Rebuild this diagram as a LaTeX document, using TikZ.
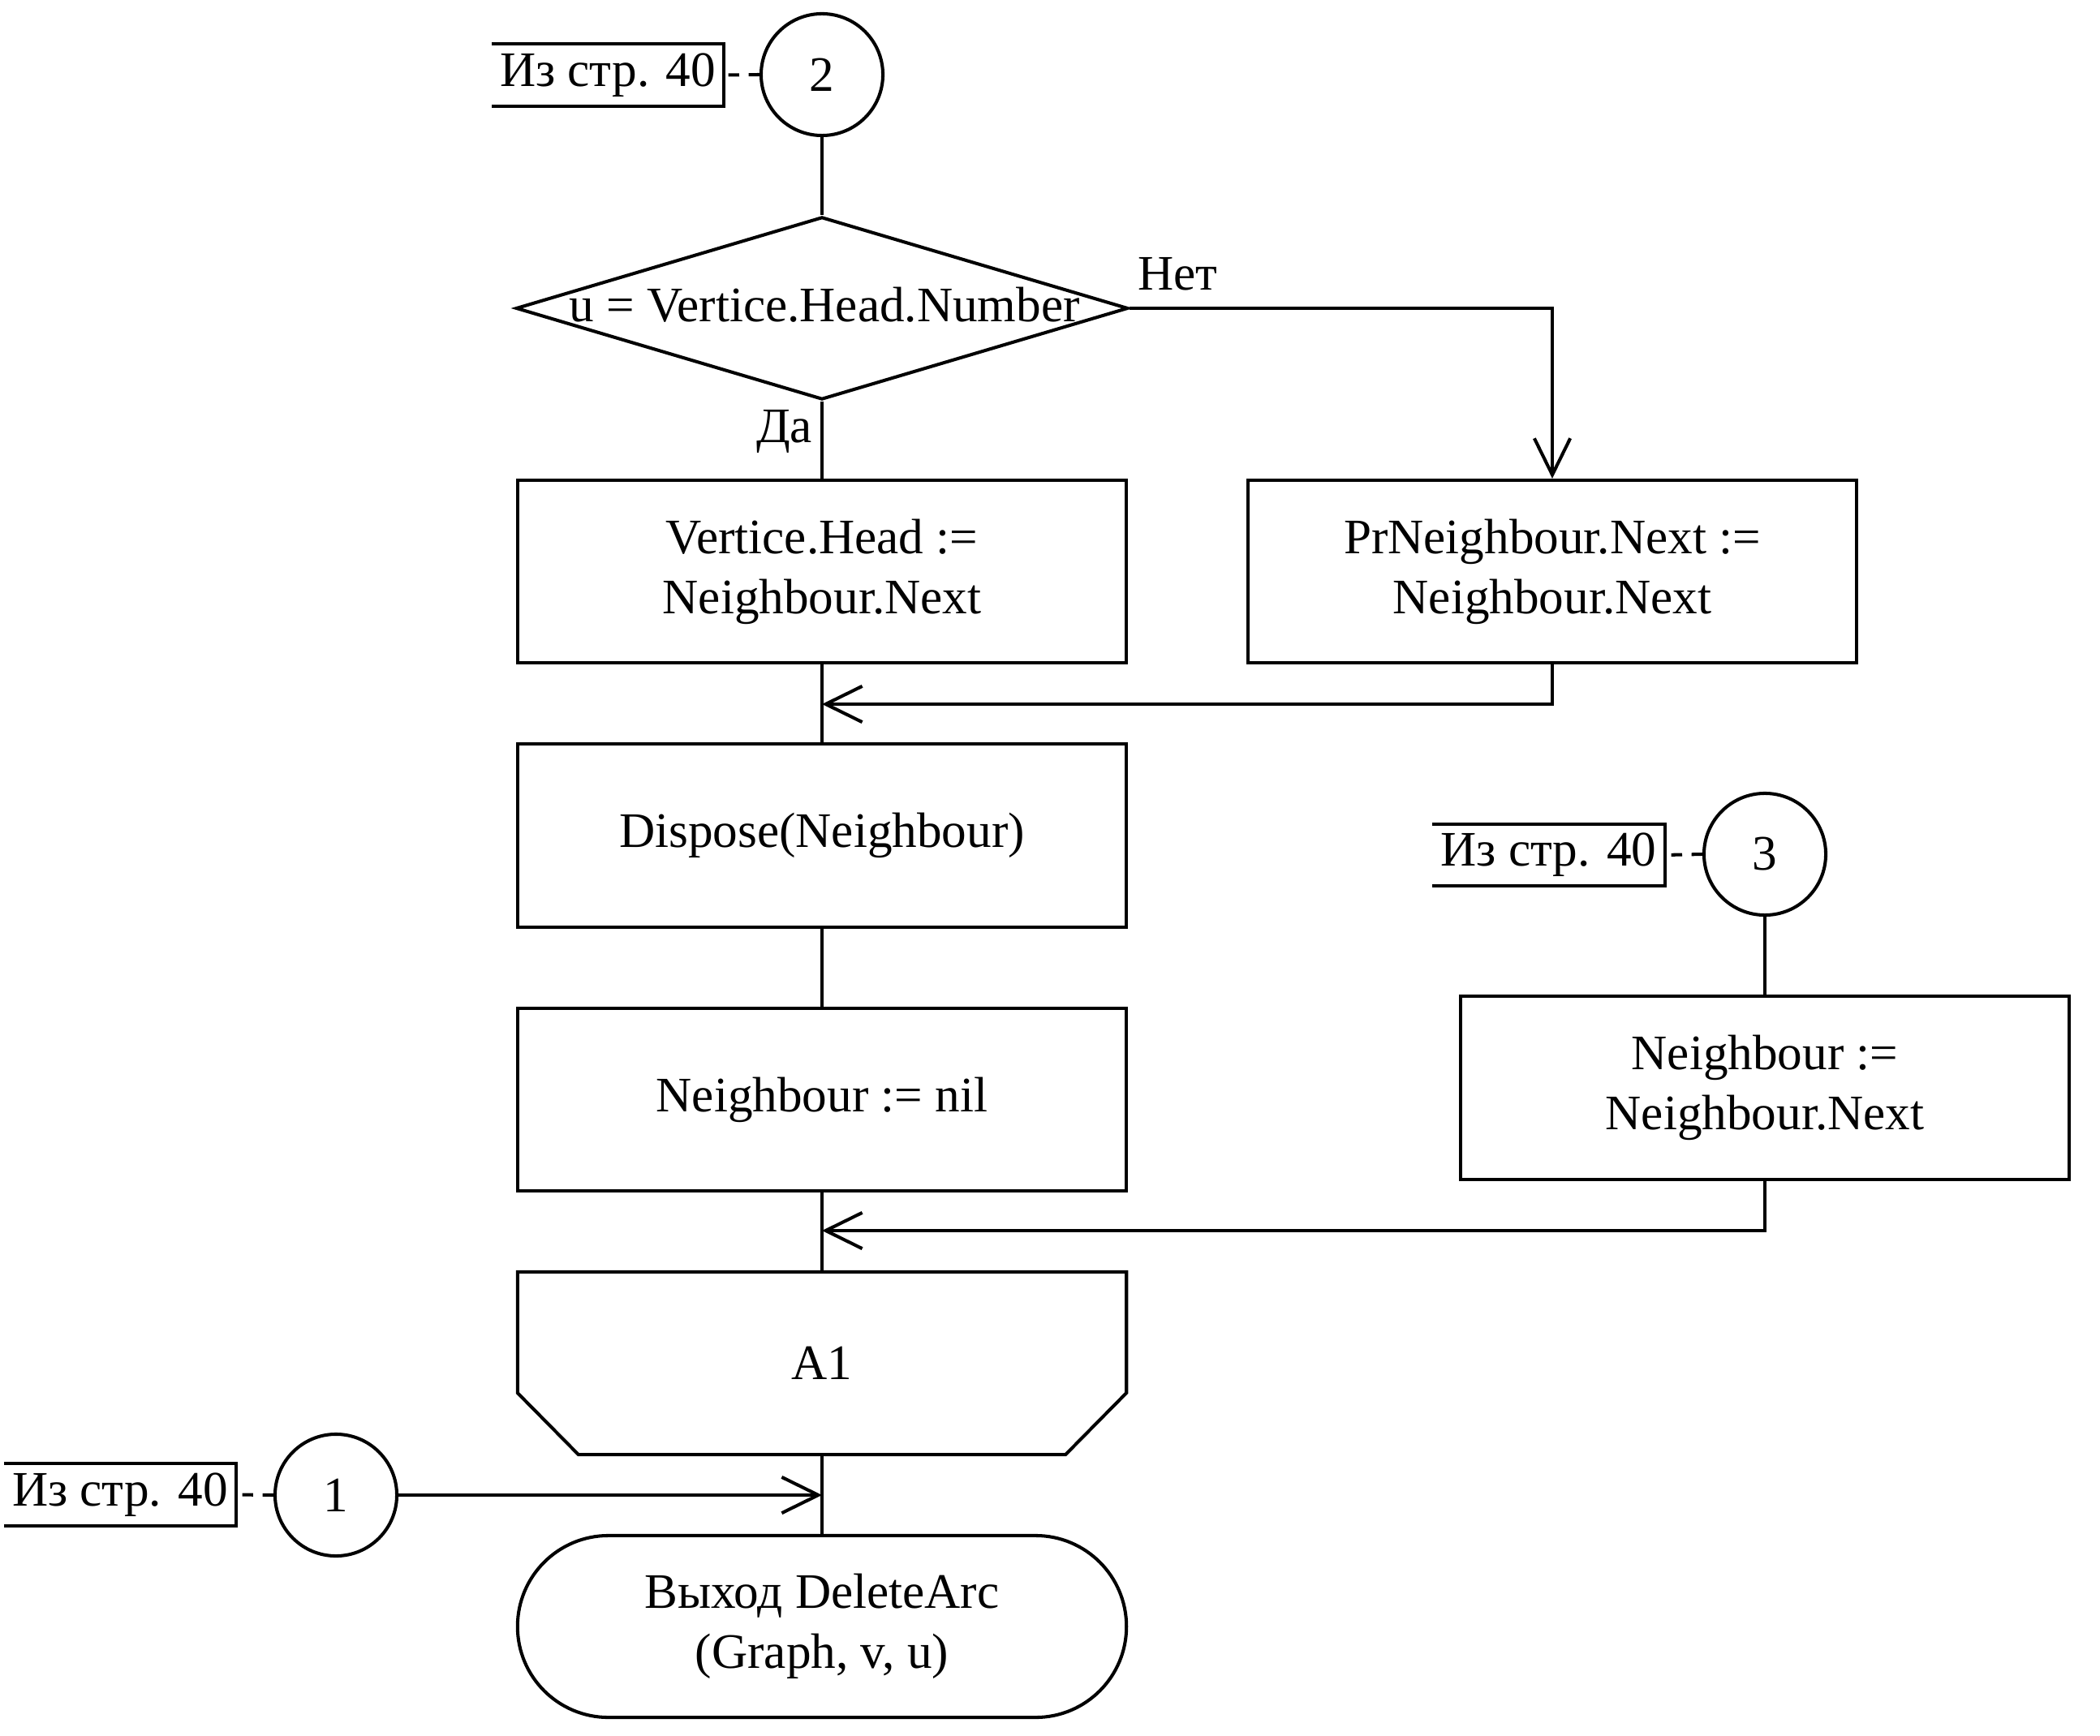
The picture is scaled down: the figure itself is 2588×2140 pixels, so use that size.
\documentclass[tikz,border=0pt]{standalone}
\usepackage{fontspec}
\setmainfont{Liberation Serif}
\usetikzlibrary{arrows.meta,shapes.geometric}
\begin{document}
\begin{tikzpicture}[x=0.01cm,y=-0.01cm,
  line width=1.15pt,
  font=\fontsize{17.4}{21}\selectfont,
  proc/.style={draw, rectangle, minimum width=7.5cm, minimum height=2.25cm, inner sep=0pt, align=center},
  conn/.style={draw, circle, minimum size=1.5cm, inner sep=0pt},
  cmt/.style={rectangle, minimum width=2.82cm, minimum height=0.72cm, inner sep=0pt},
  arr/.style={-{Straight Barb[length=12.8pt,width=12.6pt]}},
  dsh/.style={dash pattern=on 3.8pt off 3.3pt}]
\useasboundingbox (0,0) rectangle (2588,2140);

% connector 2 and its comment
\node[conn] (c2) at (1013,92) {2};
\node[cmt] (k2) at (749,92.5) {Из стр. 40};
\draw (k2.north west) -- (k2.north east) -- (k2.south east) -- (k2.south west);
\draw[dsh] (c2.west) -- (k2.east);

% decision
\node[diamond, draw, minimum width=7.54cm, minimum height=2.25cm, inner sep=0pt] (d) at (1013,380) {};
\node[anchor=base, inner sep=0pt] (dtext) at (1016,397) {u = Vertice.Head.Number};
\node[anchor=base west, inner sep=0pt] (no) at (1400,358) {Нет};
\node[anchor=base east, inner sep=0pt] (yes) at (1003,546) {Да};

% processes
\node[proc] (b1) at (1013,704.5) {Vertice.Head :=\\Neighbour.Next};
\node[proc] (b2) at (1913,704.5) {PrNeighbour.Next :=\\Neighbour.Next};
\node[proc] (b3) at (1013,1030) {Dispose(Neighbour)};
\node[proc] (b4) at (1013,1355.5) {Neighbour := nil};

% connector 3 branch
\node[conn] (c3) at (2175,1053) {3};
\node[cmt] (k3) at (1908.5,1054) {Из стр. 40};
\draw (k3.north west) -- (k3.north east) -- (k3.south east) -- (k3.south west);
\draw[dsh] (c3.west) -- (k3.east);
\node[proc] (b5) at (2175,1341) {Neighbour :=\\Neighbour.Next};

% loop end A1
\node[rectangle, minimum width=7.5cm, minimum height=2.25cm, inner sep=0pt, outer sep=0pt] (a1) at (1013,1680.5) {A1};
\draw (a1.north west) -- (a1.north east) -- ([yshift=0.76cm]a1.south east)
  -- ([xshift=-0.75cm]a1.south east) -- ([xshift=0.75cm]a1.south west)
  -- ([yshift=0.76cm]a1.south west) -- cycle;

% terminator
\node[draw, rectangle, rounded corners=1.12cm, minimum width=7.5cm, minimum height=2.24cm, inner sep=0pt, align=center] (t) at (1013,2005) {Выход DeleteArc\\(Graph, v, u)};

% connector 1 and its comment
\node[conn] (c1) at (414,1843) {1};
\node[cmt] (k1) at (148,1842.5) {Из стр. 40};
\draw (k1.north west) -- (k1.north east) -- (k1.south east) -- (k1.south west);
\draw[dsh] (c1.west) -- (k1.east);

% flow lines
\draw (c2.south) -- (d.north);
\draw (d.south) -- (b1.north);
\draw (b1.south) -- (b3.north);
\draw (b3.south) -- (b4.north);
\draw (b4.south) -- (a1.north);
\draw (a1.south) -- (t.north);
\draw[arr] (d.east) -| (b2.north);
\coordinate (m1) at (1013,868);
\draw[arr] (b2.south) |- (m1);
\draw (c3.south) -- (b5.north);
\coordinate (m2) at (1013,1517);
\draw[arr] (b5.south) |- (m2);
\coordinate (m3) at (1013,1843);
\draw[arr] (c1.east) -- (m3);
\end{tikzpicture}
\end{document}
